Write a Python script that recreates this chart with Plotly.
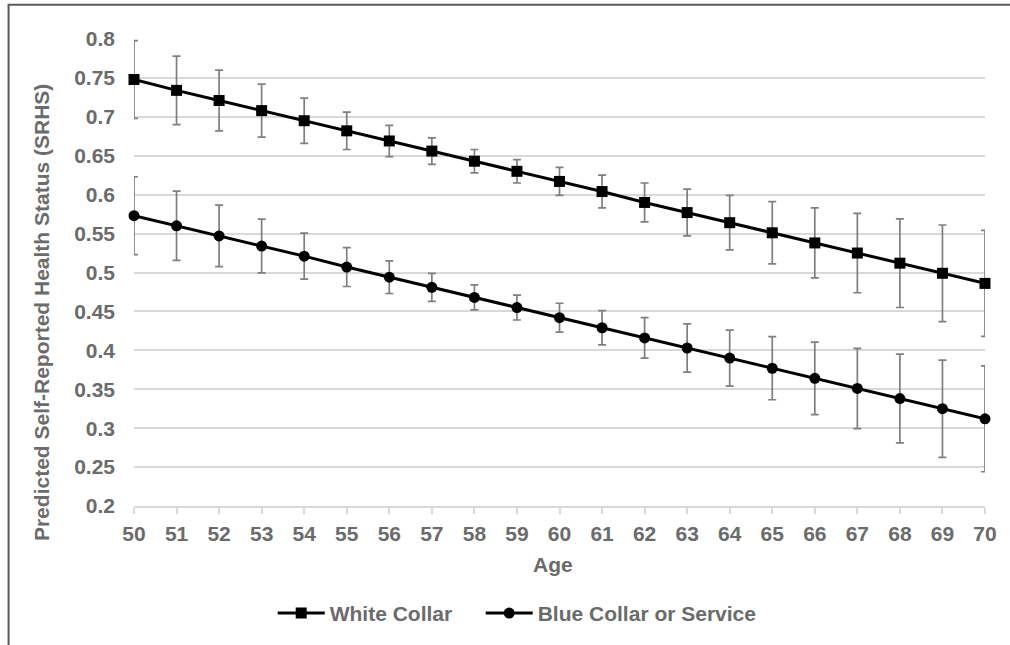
import plotly.graph_objects as go

ages = list(range(50, 71))
white_collar = [0.748, 0.734, 0.721, 0.708, 0.695, 0.682, 0.669, 0.656, 0.643, 0.630, 0.617,
                0.604, 0.590, 0.577, 0.564, 0.551, 0.538, 0.525, 0.512, 0.499, 0.486]
white_err = [0.050, 0.044, 0.039, 0.034, 0.029, 0.024, 0.020, 0.017, 0.015, 0.015, 0.018,
             0.021, 0.025, 0.030, 0.035, 0.040, 0.045, 0.051, 0.057, 0.062, 0.068]
blue_collar = [0.573, 0.560, 0.547, 0.534, 0.521, 0.507, 0.494, 0.481, 0.468, 0.455, 0.442,
               0.429, 0.416, 0.403, 0.390, 0.377, 0.364, 0.351, 0.338, 0.325, 0.312]
blue_err = [0.050, 0.0445, 0.0395, 0.0345, 0.0295, 0.025, 0.021, 0.018, 0.016, 0.016, 0.0185,
            0.022, 0.026, 0.031, 0.036, 0.0405, 0.0465, 0.0515, 0.057, 0.0625, 0.068]
y_ticks = [0.2, 0.25, 0.3, 0.35, 0.4, 0.45, 0.5, 0.55, 0.6, 0.65, 0.7, 0.75, 0.8]
y_labels = ["0.2", "0.25", "0.3", "0.35", "0.4", "0.45", "0.5", "0.55", "0.6", "0.65", "0.7", "0.75", "0.8"]
x_title = "Age"
y_title = "Predicted Self-Reported Health Status (SRHS)"

FONT = "Liberation Sans, Arial, sans-serif"
TXT = "#6b6b6b"
GRID = "#d9d9d9"
ERRC = "#7f7f7f"

fig = go.Figure()
fig.add_trace(go.Scatter(
    x=ages, y=white_collar, name="White Collar", mode="lines+markers",
    line=dict(color="black", width=3),
    marker=dict(symbol="square", size=11, color="black"),
    error_y=dict(type="data", array=white_err, color=ERRC, thickness=1.7, width=4),
    cliponaxis=False, legend="legend",
))
fig.add_trace(go.Scatter(
    x=ages, y=blue_collar, name="Blue Collar or Service", mode="lines+markers",
    line=dict(color="black", width=3),
    marker=dict(symbol="circle", size=11, color="black"),
    error_y=dict(type="data", array=blue_err, color=ERRC, thickness=1.7, width=4),
    cliponaxis=False, legend="legend2",
))

bold21 = dict(family=FONT, size=21, color=TXT, weight="bold")

fig.update_layout(
    width=1010, height=645,
    margin=dict(l=134, r=25, t=39, b=138),
    paper_bgcolor="white", plot_bgcolor="white",
    font=dict(family=FONT, size=21, color=TXT),
    showlegend=True,
    legend=dict(orientation="h", x=0.163, xanchor="left", y=-0.2274, yanchor="middle",
                itemwidth=47, font=bold21, bgcolor="rgba(0,0,0,0)"),
    legend2=dict(orientation="h", x=0.4074, xanchor="left", y=-0.2274, yanchor="middle",
                 itemwidth=47, font=bold21, bgcolor="rgba(0,0,0,0)"),
    xaxis=dict(
        range=[50, 70], tickmode="array", tickvals=ages, ticktext=[str(a) for a in ages],
        showgrid=False, zeroline=False,
        showline=True, linecolor=GRID, linewidth=2,
        ticks="outside", ticklen=6, tickcolor=GRID, tickwidth=2,
        ticklabelstandoff=2, tickfont=bold21,
    ),
    xaxis2=dict(
        range=[50, 70], overlaying="x", anchor="y", side="bottom",
        tickmode="array", tickvals=ages, showticklabels=False,
        showgrid=False, zeroline=False, showline=False,
        ticks="inside", ticklen=6, tickcolor=GRID, tickwidth=2,
    ),
    yaxis=dict(
        range=[0.2, 0.8], tickmode="array", tickvals=y_ticks, ticktext=y_labels,
        showgrid=True, gridcolor=GRID, gridwidth=2, zeroline=False, showline=False,
        ticks="", ticklabelstandoff=18, tickfont=bold21,
    ),
    annotations=[
        dict(text=x_title, xref="paper", yref="paper", x=0.4927, y=-0.1247,
             xanchor="center", yanchor="middle", showarrow=False, font=bold21),
        dict(text=y_title, xref="paper", yref="paper", x=-0.1086, y=0.4144,
             xanchor="center", yanchor="middle", showarrow=False, textangle=-90, font=bold21),
    ],
    shapes=[dict(type="rect", xref="paper", yref="paper",
                 x0=-0.1474, x1=1.2, y0=-0.4, y1=1.0734,
                 line=dict(color="#595959", width=2), fillcolor="rgba(0,0,0,0)", layer="below")],
)

fig.write_html("out.html", config={"displayModeBar": False},
               post_script="document.body.style.margin='0';")
